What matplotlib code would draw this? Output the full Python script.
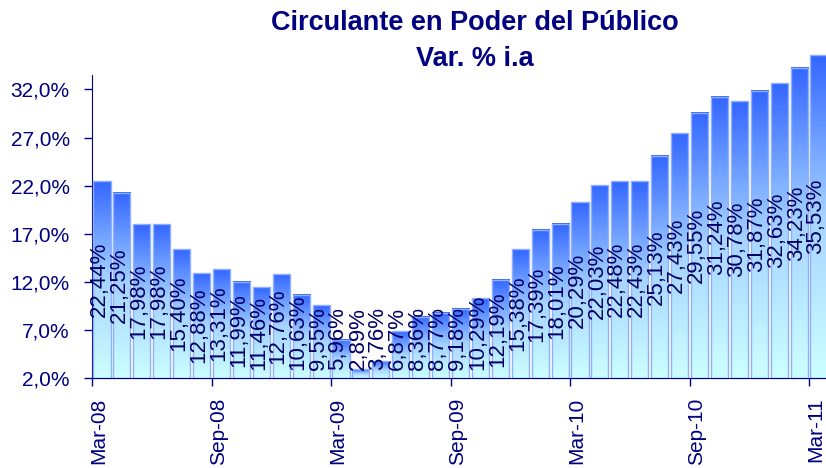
import matplotlib
matplotlib.use('Agg')
import matplotlib.pyplot as plt
import matplotlib.transforms as mtransforms
from matplotlib.colors import LinearSegmentedColormap
import numpy as np

plt.rcParams['font.family'] = ['Liberation Sans', 'DejaVu Sans']

months = ['Mar-08', 'Apr-08', 'May-08', 'Jun-08', 'Jul-08', 'Aug-08', 'Sep-08',
          'Oct-08', 'Nov-08', 'Dec-08', 'Jan-09', 'Feb-09', 'Mar-09', 'Apr-09',
          'May-09', 'Jun-09', 'Jul-09', 'Aug-09', 'Sep-09', 'Oct-09', 'Nov-09',
          'Dec-09', 'Jan-10', 'Feb-10', 'Mar-10', 'Apr-10', 'May-10', 'Jun-10',
          'Jul-10', 'Aug-10', 'Sep-10', 'Oct-10', 'Nov-10', 'Dec-10', 'Jan-11',
          'Feb-11', 'Mar-11']
values = [22.44, 21.25, 17.98, 17.98, 15.40, 12.88, 13.31, 11.99, 11.46, 12.76,
          10.63, 9.55, 5.96, 2.89, 3.76, 6.87, 8.36, 8.77, 9.18, 10.29, 12.19,
          15.38, 17.39, 18.01, 20.29, 22.03, 22.48, 22.43, 25.13, 27.43, 29.55,
          31.24, 30.78, 31.87, 32.63, 34.23, 35.53]
yticks = [2, 7, 12, 17, 22, 27, 32]

navy = '#000080'
base = 2.0
width = 0.86

fig = plt.figure(figsize=(8.26, 4.68), dpi=100)
ax = fig.add_axes([92 / 826, 1 - 378 / 468, 737 / 826, (378 - 75) / 468])

x = np.arange(len(values))
bars = ax.bar(x, np.array(values) - base, bottom=base, width=width,
              facecolor='none', edgecolor='#8fb0ff', linewidth=1.0,
              clip_on=False, zorder=3)

cmap = LinearSegmentedColormap.from_list('grad', ['#ccffff', '#a6d4ff', '#3366ff'])
grad = np.linspace(0, 1, 256).reshape(-1, 1)
for b in bars:
    x0 = b.get_x()
    ax.imshow(grad, cmap=cmap, origin='lower', aspect='auto',
              extent=(x0, x0 + b.get_width(), base, base + b.get_height()),
              clip_on=False, zorder=2)

ax.set_xlim(-0.5, len(values) - 0.5)
ax.set_ylim(base, 33.5)

# value labels centred in bars (nudged a little left, as in the original)
lab_shift = mtransforms.ScaledTranslation(-3 / 100, 0, fig.dpi_scale_trans)
texts = []
for i, v in enumerate(values):
    lbl = ('%.2f%%' % v).replace('.', ',')
    t = ax.text(i, (base + v) / 2, lbl, rotation=90, ha='center', va='center',
                fontsize=16, color='#000066', zorder=4,
                transform=ax.transData + lab_shift)
    texts.append(t)

fig.canvas.draw()
floor_px = ax.transData.transform((0, 2.8))[1]
for t in texts:
    bb = t.get_window_extent()
    if bb.y0 < floor_px:
        t.set_y(2.8)
        t.set_va('bottom')

# y axis
ax.set_yticks(yticks)
ax.set_yticklabels([('%.1f%%' % v).replace('.', ',') for v in yticks])
ax.tick_params(axis='y', colors=navy, labelsize=15, length=6, width=1, pad=10)

# x axis: ticks on boundaries, labels centred every 6 months
ax.set_xticks(np.arange(-0.5, len(values), 6))
ax.set_xticklabels([])
ax.set_xticks(np.arange(0, len(values), 6), minor=True)
ax.set_xticklabels([months[i] for i in range(0, len(values), 6)], minor=True,
                   rotation=90)
ax.tick_params(axis='x', which='major', colors=navy, length=6, width=1)
ax.tick_params(axis='x', which='minor', colors=navy, length=0, labelsize=15, pad=14)
shift = mtransforms.ScaledTranslation(-3 / 100, 0, fig.dpi_scale_trans)
for lab in ax.get_xticklabels(minor=True):
    lab.set_transform(lab.get_transform() + shift)

for s in ['top', 'right']:
    ax.spines[s].set_visible(False)
ax.spines['left'].set_color(navy)
ax.spines['bottom'].set_color(navy)
ax.spines['bottom'].set_zorder(5)

fig.text(0.575, 1 - 23 / 468, 'Circulante en Poder del Público', ha='center',
         va='center', fontsize=19.5, fontweight='bold', color=navy)
fig.text(0.575, 1 - 59 / 468, 'Var. % i.a', ha='center', va='center',
         fontsize=19.5, fontweight='bold', color=navy)

fig.savefig('out.png', dpi=100)
